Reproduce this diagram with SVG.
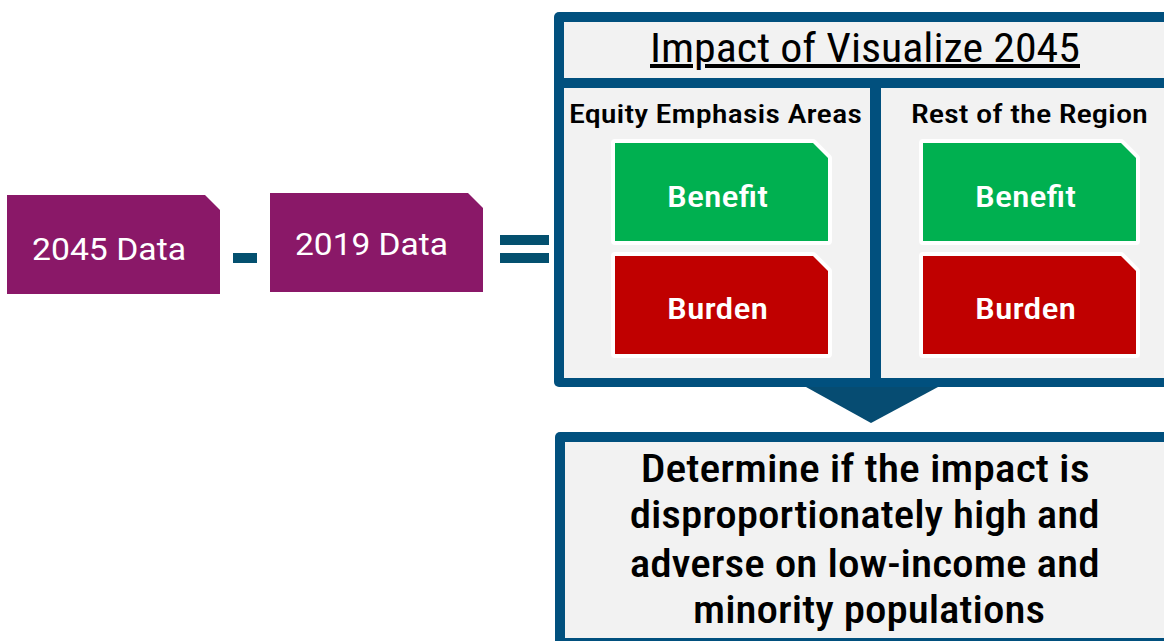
<svg xmlns="http://www.w3.org/2000/svg" width="1164" height="641" viewBox="0 0 1164 641">
  <style>
    .frame { fill: #01507E; }
    .panel { fill: #F2F2F2; }
    .cond { font-family: "Roboto Condensed", Roboto, "Liberation Sans", sans-serif; text-anchor: middle; }
    .dark { fill: #000000; }
    .white { fill: #FFFFFF; }
    .tag { stroke: #FFFFFF; stroke-width: 8; paint-order: stroke; stroke-linejoin: round; }
    .green { fill: #00B050; }
    .red { fill: #C00000; }
    .purple { fill: #8A1868; }
    .op { fill: #04506F; }
    .data { font-family: Roboto, "Liberation Sans", sans-serif; font-weight: 400; font-size: 32px; text-anchor: middle; fill: #FFFFFF; }
  </style>
  <rect width="1164" height="641" fill="#FFFFFF"/>

  <g id="data2045">
    <path class="purple" d="M7,195 H205 L220,210 V294 H7 Z"/>
    <text class="data" x="109" y="260" textLength="154" lengthAdjust="spacingAndGlyphs">2045 Data</text>
  </g>
  <g id="minus">
    <rect class="op" x="233" y="253" width="24" height="10"/>
  </g>
  <g id="data2019">
    <path class="purple" d="M270,193 H468 L483,208 V292 H270 Z"/>
    <text class="data" x="371.5" y="255" textLength="153" lengthAdjust="spacingAndGlyphs">2019 Data</text>
  </g>
  <g id="equals">
    <rect class="op" x="500" y="235" width="49" height="10"/>
    <rect class="op" x="500" y="253" width="49" height="10"/>
  </g>

  <g id="impact">
    <rect class="frame" x="554" y="12" width="630" height="375" rx="5"/>
    <rect class="panel" x="564" y="22" width="620" height="56"/>
    <rect class="panel" x="564" y="88" width="306" height="290"/>
    <rect class="panel" x="881" y="88" width="303" height="290"/>
    <text class="cond dark" x="865" y="62" font-size="40" textLength="430" lengthAdjust="spacingAndGlyphs" text-decoration="underline">Impact of Visualize 2045</text>
  </g>

  <g id="equity">
    <text class="cond dark" x="715.5" y="123" font-size="25" font-weight="500" textLength="293" lengthAdjust="spacingAndGlyphs">Equity Emphasis Areas</text>
  </g>
  <g id="equity-benefit">
    <path class="tag green" d="M615,143 H813 L828,158 V241 H615 Z"/>
    <text class="cond white" x="717.5" y="207" font-size="30" font-weight="500" textLength="101" lengthAdjust="spacingAndGlyphs">Benefit</text>
  </g>
  <g id="equity-burden">
    <path class="tag red" d="M615,256 H813 L828,271 V354 H615 Z"/>
    <text class="cond white" x="717.5" y="319" font-size="30" font-weight="500" textLength="101" lengthAdjust="spacingAndGlyphs">Burden</text>
  </g>

  <g id="rest">
    <text class="cond dark" x="1029.5" y="123" font-size="25" font-weight="500" textLength="237" lengthAdjust="spacingAndGlyphs">Rest of the Region</text>
  </g>
  <g id="rest-benefit">
    <path class="tag green" d="M923,143 H1121 L1136,158 V241 H923 Z"/>
    <text class="cond white" x="1025.5" y="207" font-size="30" font-weight="500" textLength="101" lengthAdjust="spacingAndGlyphs">Benefit</text>
  </g>
  <g id="rest-burden">
    <path class="tag red" d="M923,256 H1121 L1136,271 V354 H923 Z"/>
    <text class="cond white" x="1025.5" y="319" font-size="30" font-weight="500" textLength="101" lengthAdjust="spacingAndGlyphs">Burden</text>
  </g>

  <g id="connectors">
    <path fill="#064C72" d="M806,387 L938,387 L871,423 Z"/>
  </g>

  <g id="determine">
    <rect class="frame" x="555" y="432" width="630" height="220" rx="5"/>
    <rect class="panel" x="565" y="442" width="620" height="196"/>
    <text class="cond dark" font-size="38" font-weight="500">
      <tspan x="869.5" y="482" textLength="449" lengthAdjust="spacingAndGlyphs">Determine if the impact is</tspan>
      <tspan x="869" y="528" textLength="470" lengthAdjust="spacingAndGlyphs">disproportionately high and</tspan>
      <tspan x="869" y="577" textLength="470" lengthAdjust="spacingAndGlyphs">adverse on low-income and</tspan>
      <tspan x="869" y="623" textLength="352" lengthAdjust="spacingAndGlyphs">minority populations</tspan>
    </text>
  </g>
</svg>
